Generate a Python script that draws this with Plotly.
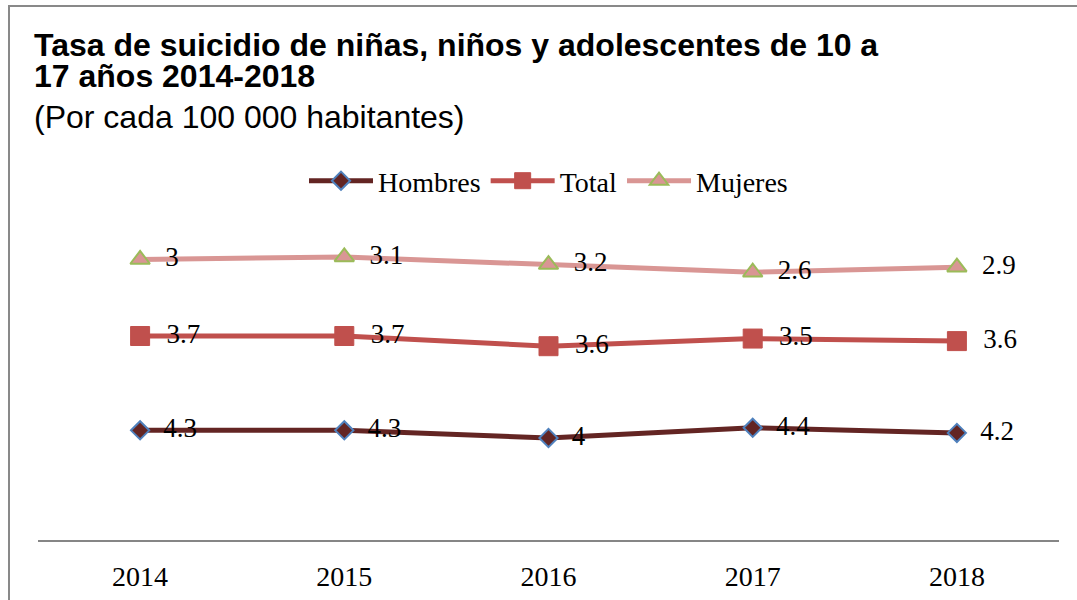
import plotly.graph_objects as go

years = ["2014", "2015", "2016", "2017", "2018"]
hombres = [4.3, 4.3, 4.0, 4.4, 4.2]
total = [3.7, 3.7, 3.6, 3.5, 3.6]
mujeres = [3.0, 3.1, 3.2, 2.6, 2.9]

W, H = 1077, 600
L, R, T, B = 38, 18, 234, 60
PW, PH = W - L - R, H - T - B

def px(xp):
    return (xp - L) / PW

def py(yp):
    return (H - B - yp) / PH

SERIF = "Liberation Serif"
SANS = "Liberation Sans"

fig = go.Figure()

series = [
    ("Hombres", hombres, "#632523", dict(symbol="diamond", size=14, color="#632523",
                                         line=dict(color="#4F81BD", width=2))),
    ("Total", total, "#C0504D", dict(symbol="square", size=19, color="#C0504D",
                                     line=dict(color="#C0504D", width=1))),
    ("Mujeres", mujeres, "#D99694", dict(symbol="triangle-up", size=17, color="#D99694",
                                         line=dict(color="#9BBB59", width=2))),
]

for name, vals, col, mk in series:
    fig.add_trace(go.Scatter(
        x=years, y=vals, name=name, stackgroup="one", fill="none",
        mode="lines+markers+text",
        line=dict(color=col, width=5),
        marker=mk,
        text=["\u00a0\u00a0" + f"{v:g}" for v in vals],
        textposition="middle right",
        textfont=dict(family=SERIF, size=27, color="black"),
        hoverinfo="skip",
    ))

fig.update_layout(
    width=W, height=H,
    margin=dict(l=L, r=R, t=T, b=B, autoexpand=False),
    paper_bgcolor="white", plot_bgcolor="white",
    showlegend=True,
    legend=dict(orientation="h", x=0.5, xanchor="center", y=py(181), yanchor="middle",
                font=dict(family=SERIF, size=28, color="black"),
                traceorder="normal", itemwidth=64, bgcolor="rgba(0,0,0,0)"),
    xaxis=dict(type="category", range=[-0.5, 4.5], showgrid=False, zeroline=False,
               showline=True, linecolor="#868686", linewidth=2, ticks="",
               tickfont=dict(family=SERIF, size=28, color="black"), ticklabelstandoff=10),
    yaxis=dict(range=[0, 12], visible=False, showgrid=False, zeroline=False),
)

fig.add_annotation(xref="paper", yref="paper", x=px(32), y=py(45), xanchor="left", yanchor="middle",
                   text="<b>Tasa de suicidio de niñas, niños y adolescentes de 10 a</b>",
                   showarrow=False, font=dict(family=SANS, size=32, color="black"))
fig.add_annotation(xref="paper", yref="paper", x=px(32), y=py(76), xanchor="left", yanchor="middle",
                   text="<b>17 años 2014-2018</b>",
                   showarrow=False, font=dict(family=SANS, size=32, color="black"))
fig.add_annotation(xref="paper", yref="paper", x=px(32), y=py(117), xanchor="left", yanchor="middle",
                   text="(Por cada 100 000 habitantes)",
                   showarrow=False, font=dict(family=SANS, size=32, color="black"))

fig.add_shape(type="rect", xref="paper", yref="paper",
              x0=px(9), x1=px(1200), y0=py(700), y1=py(6),
              line=dict(color="#898989", width=2), fillcolor="rgba(0,0,0,0)", layer="below")

fig.write_html("out.html",
               config={"displayModeBar": False},
               post_script="document.body.style.margin='0';document.body.style.overflow='hidden';")
